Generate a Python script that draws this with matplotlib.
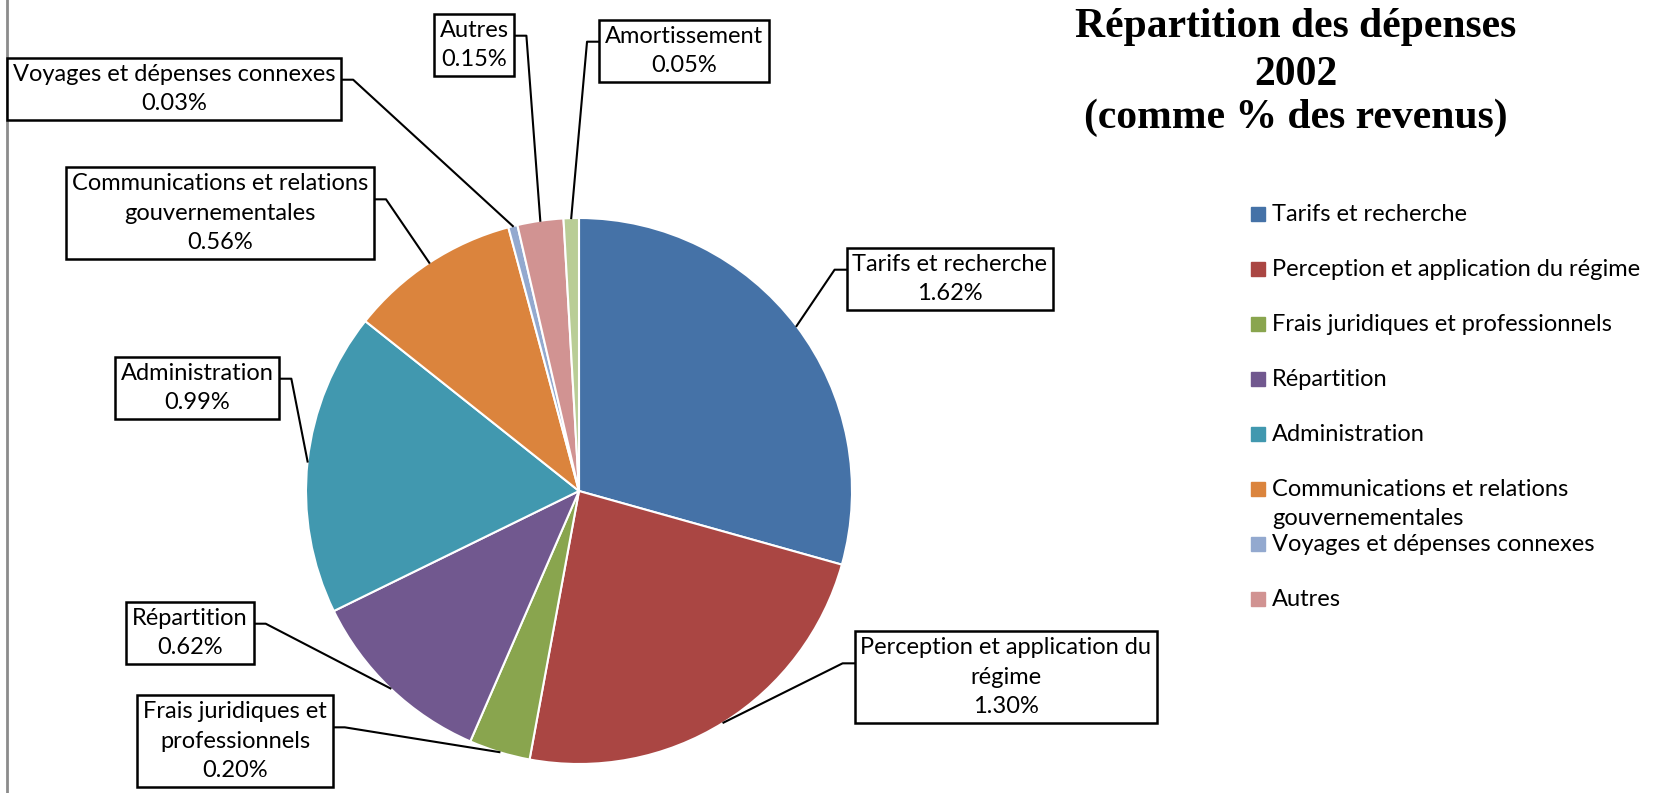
import numpy as np
import matplotlib
matplotlib.use("Agg")
import matplotlib.pyplot as plt

# Expense breakdown 2002 (% of revenue)
categories = ["Tarifs et recherche", "Perception et application du régime",
              "Frais juridiques et professionnels", "Répartition", "Administration",
              "Communications et relations gouvernementales",
              "Voyages et dépenses connexes", "Autres", "Amortissement"]
values = [1.62, 1.30, 0.20, 0.62, 0.99, 0.56, 0.03, 0.15, 0.05]
colors = ["#4572A7", "#AA4643", "#89A54E", "#71588F", "#4198AF",
          "#DB843D", "#93A9CF", "#D19392", "#B9CD96"]

# wrapped texts for the data-label boxes and the legend
box_texts = ["Tarifs et recherche", "Perception et application du\nrégime",
             "Frais juridiques et\nprofessionnels", "Répartition", "Administration",
             "Communications et relations\ngouvernementales",
             "Voyages et dépenses connexes", "Autres", "Amortissement"]
legend_texts = ["Tarifs et recherche", "Perception et application du régime",
                "Frais juridiques et professionnels", "Répartition", "Administration",
                "Communications et relations\ngouvernementales",
                "Voyages et dépenses connexes", "Autres"]

title_lines = ["Répartition des dépenses", "2002", "(comme % des revenus)"]

# layout (pixels, measured from the top-left corner)
W, H = 1656, 793
pie_cx, pie_cy, pie_r = 579, 491, 273
box_pos = [(950, 279), (1006, 677), (235, 741), (190, 633), (197, 388),
           (220, 213), (174, 89), (474, 45), (684, 51)]
box_side = ["L", "L", "R", "R", "R", "R", "R", "R", "L"]

FONT = "Lato"
FS = 17
LS = 1.48

fig = plt.figure(figsize=(W / 100, H / 100), dpi=100)
ax = fig.add_axes([0, 0, 1, 1])

wedges, _ = ax.pie(values, colors=colors, startangle=90, counterclock=False,
                   center=(pie_cx, H - pie_cy), radius=pie_r,
                   wedgeprops=dict(edgecolor="white", linewidth=1.5))
ax.set_xlim(0, W)
ax.set_ylim(0, H)
ax.axis("off")

# left border of the chart area
ax.plot([7, 7], [0, H], color="#8c8c8c", lw=2)

# data labels in boxes
labels = []
for txt, v, (bx, by) in zip(box_texts, values, box_pos):
    t = ax.text(bx, H - by, f"{txt}\n{v:.2f}%", ha="center", va="center",
                multialignment="center", family=FONT, fontsize=FS, linespacing=LS,
                bbox=dict(boxstyle="square,pad=0.25", fc="white", ec="black", lw=1.8),
                zorder=5)
    labels.append(t)

fig.canvas.draw()
renderer = fig.canvas.get_renderer()
inv = ax.transData.inverted()

# leader lines: short horizontal stub then straight to wedge edge
for t, w, side in zip(labels, wedges, box_side):
    bb = t.get_bbox_patch().get_window_extent(renderer)
    (x0, y0), (x1, y1) = inv.transform([[bb.x0, bb.y0], [bb.x1, bb.y1]])
    ya = y1 - 0.35 * (y1 - y0)
    if side == "R":
        xe, xs = x1, x1 + 12
    else:
        xe, xs = x0, x0 - 12
    mid = np.deg2rad((w.theta1 + w.theta2) / 2)
    px = w.center[0] + w.r * np.cos(mid)
    py = w.center[1] + w.r * np.sin(mid)
    ax.plot([xe, xs, px], [ya, ya, py], color="black", lw=1.5, zorder=4)

# legend (drawn by hand to keep Excel-like spacing)
leg_x, leg_y0, leg_dy = 1258, 214, 55
for i, (txt, c) in enumerate(zip(legend_texts, colors)):
    y = H - (leg_y0 + i * leg_dy)
    ax.plot(leg_x, y, marker="s", ms=10, color=c, ls="none")
    ax.text(leg_x + 14, y + 10, txt, ha="left", va="top", family=FONT,
            fontsize=FS, linespacing=LS)

# title
for line, base in zip(title_lines, [37, 85, 128]):
    ax.text(1296, H - base, line, ha="center", va="baseline",
            family="Liberation Serif", fontweight="bold", fontsize=30)

fig.savefig("out.png", dpi=100, facecolor="white")
